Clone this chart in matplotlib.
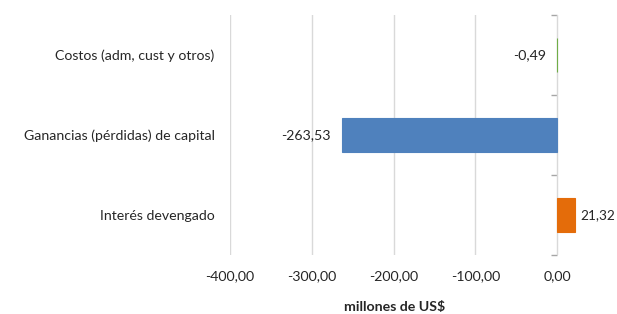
import matplotlib
matplotlib.use('Agg')
import matplotlib.pyplot as plt

# data, bottom to top as drawn
categories = ['Interés devengado', 'Ganancias (pérdidas) de capital', 'Costos (adm, cust y otros)']
values = [21.32, -263.53, -0.49]
colors = ['#E46C0A', '#4F81BD', '#70AD47']
xticks = [-400, -300, -200, -100, 0]

plt.rcParams['font.family'] = ['Lato', 'DejaVu Sans']
plt.rcParams['font.size'] = 10.2
txt = '#262626'


def fmt(v):
    return '{:.2f}'.format(v).replace('.', ',')


fig = plt.figure(figsize=(6.17, 3.14), dpi=100)
ax = fig.add_axes([0.3728, 0.188, 0.57, 0.764])

y = list(range(len(categories)))
ax.barh(y, values, height=0.43, color=colors, edgecolor=colors, linewidth=0.8, zorder=3)

xmin, xmax = -400, 30
ax.set_xlim(xmin, xmax)
ax.set_ylim(-0.5, len(categories) - 0.5)

ax.set_xticks(xticks)
ax.set_xticklabels([fmt(t) for t in xticks], color=txt)
ax.tick_params(axis='x', length=0, pad=11)
ax.set_yticks(y)
ax.set_yticklabels(categories, color=txt)
ax.tick_params(axis='y', length=0, pad=11)

ax.grid(axis='x', color='#D9D9D9', linewidth=1, zorder=0)
for s in ax.spines.values():
    s.set_visible(False)

# category axis crossing at zero, with boundary ticks
sec = ax.secondary_yaxis((0 - xmin) / (xmax - xmin))
sec.set_yticks([-0.5, 0.5, 1.5, 2.5])
sec.set_yticklabels([])
sec.tick_params(axis='y', direction='out', length=4, color='#A6A6A6', width=1)
sec.spines['left'].set_color('#A6A6A6')
sec.spines['right'].set_visible(False)
sec.spines['top'].set_visible(False)
sec.spines['bottom'].set_visible(False)
sec.yaxis.set_ticks_position('left')

for yi, v in zip(y, values):
    if v < 0:
        ax.annotate(fmt(v), (v, yi), xytext=(-8, 0), textcoords='offset points',
                    ha='right', va='center', color=txt)
    else:
        ax.annotate(fmt(v), (v, yi), xytext=(4, 0), textcoords='offset points',
                    ha='left', va='center', color=txt, fontsize=9.8)

ax.set_xlabel('millones de US$', fontweight='bold', color=txt)
ax.xaxis.set_label_coords(0.469, -0.192)

fig.savefig('out.png', dpi=100)
